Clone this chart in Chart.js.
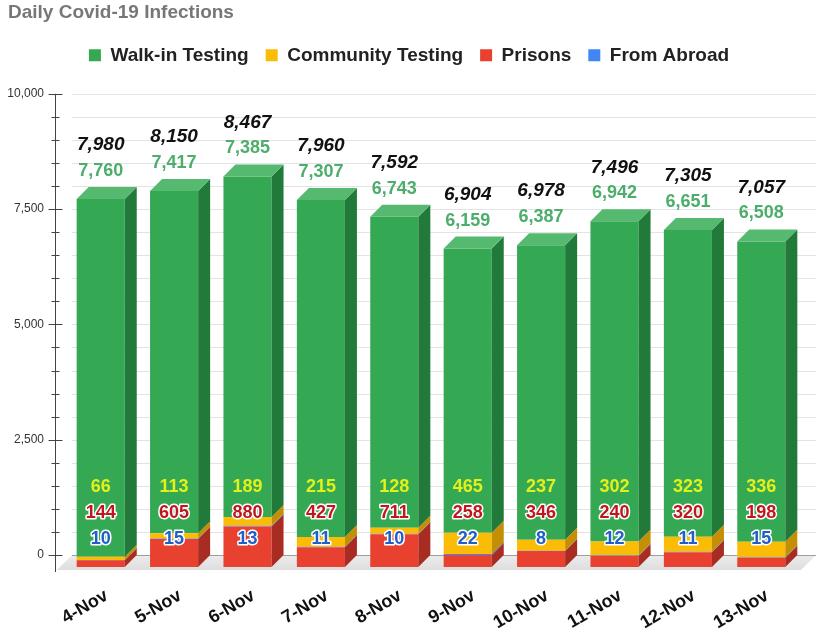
<!DOCTYPE html>
<html>
<head>
<meta charset="utf-8">
<script src="https://cdn.jsdelivr.net/npm/chart.js@4.4.1/dist/chart.umd.min.js"></script>
<style>
  html, body { margin: 0; padding: 0; background: #fff; }
  #wrap { width: 820px; height: 638px; }
</style>
</head>
<body>
<div id="wrap"><canvas id="c" width="820" height="638"></canvas></div>
<script>
// data
const days = ['4-Nov', '5-Nov', '6-Nov', '7-Nov', '8-Nov', '9-Nov', '10-Nov', '11-Nov', '12-Nov', '13-Nov'];
const walkIn = [7760, 7417, 7385, 7307, 6743, 6159, 6387, 6942, 6651, 6508];
const community = [66, 113, 189, 215, 128, 465, 237, 302, 323, 336];
const prisons = [144, 605, 880, 427, 711, 258, 346, 240, 320, 198];
const abroad = [10, 15, 13, 11, 10, 22, 8, 12, 11, 15];
const yMax = 10000;
const yStep = 500;
const yLabelStep = 2500;

const totals = days.map((_, i) => walkIn[i] + community[i] + prisons[i] + abroad[i]);

const DEPTH = 12;      // 3D offset of the bar fronts
const FLOOR = 15;      // depth of the floor slab
const FONT = '"Liberation Sans", Arial, sans-serif';
const fmt = (v) => v.toLocaleString('en-US');

// stacking bottom -> top; legend order is set by rank
const series = [
  { label: 'Prisons', data: prisons, front: '#e8412f', side: '#a92c22', top: '#f06a5c', text: '#c0171f', rank: 2 },
  { label: 'From Abroad', data: abroad, front: '#4285f4', side: '#2a5db5', top: '#6aa0f7', text: '#1f5fc7', rank: 3 },
  { label: 'Community Testing', data: community, front: '#fbbc05', side: '#c48f05', top: '#fdd050', text: '#e3f01b', rank: 1 },
  { label: 'Walk-in Testing', data: walkIn, front: '#34a853', side: '#227a3a', top: '#55b96f', text: '#4cae6a', rank: 0 },
];

function poly(ctx, pts, color) {
  ctx.beginPath();
  ctx.moveTo(pts[0][0], pts[0][1]);
  for (let k = 1; k < pts.length; k++) ctx.lineTo(pts[k][0], pts[k][1]);
  ctx.closePath();
  ctx.fillStyle = color;
  ctx.fill();
}

const depthPlugin = {
  id: 'depth3d',
  beforeInit(chart) {
    // extra room below the legend
    const fit = chart.legend.fit;
    chart.legend.fit = function () {
      fit.call(this);
      this.height += 19;
    };
  },
  beforeDatasetsDraw(chart) {
    const { ctx, chartArea: a, scales } = chart;
    const ys = scales.y;
    const base = ys.getPixelForValue(0);
    ctx.save();
    // back wall grid
    ctx.strokeStyle = '#e3e3e3';
    ctx.lineWidth = 1;
    for (let v = 0; v <= yMax; v += yStep) {
      const py = Math.round(ys.getPixelForValue(v)) + 0.5;
      ctx.beginPath();
      ctx.moveTo(a.left - 4, py);
      ctx.lineTo(a.right + 6, py);
      ctx.stroke();
    }
    // floor
    const g = ctx.createLinearGradient(0, base, 0, base + FLOOR);
    g.addColorStop(0, '#ececec');
    g.addColorStop(1, '#dedede');
    poly(ctx, [[a.left - 4, base], [a.right + 6, base], [a.right + 6 - FLOOR, base + FLOOR], [a.left - 4 - FLOOR, base + FLOOR]], g);
    ctx.strokeStyle = '#9e9e9e';
    ctx.beginPath();
    ctx.moveTo(a.left - 4, base + 0.5);
    ctx.lineTo(a.right + 6, base + 0.5);
    ctx.stroke();
    // axis line with tick marks
    const ax = a.left - 20.5;
    ctx.strokeStyle = '#444';
    ctx.beginPath();
    ctx.moveTo(ax, ys.getPixelForValue(yMax));
    ctx.lineTo(ax, base + FLOOR + 2);
    ctx.stroke();
    for (let v = 0; v <= yMax; v += yStep) {
      const py = Math.round(ys.getPixelForValue(v)) + 0.5;
      const major = v % yLabelStep === 0;
      ctx.beginPath();
      ctx.moveTo(ax - (major ? 7 : 4), py);
      ctx.lineTo(ax + (major ? 7 : 4), py);
      ctx.stroke();
    }
    ctx.restore();
    // bar fronts are drawn shifted towards the viewer
    ctx.save();
    ctx.translate(-DEPTH, DEPTH);
  },
  afterDatasetsDraw(chart) {
    const { ctx, chartArea: a } = chart;
    ctx.restore();
    const D = DEPTH;
    const last = series.length - 1;
    series.forEach((s, i) => {
      const meta = chart.getDatasetMeta(i);
      meta.data.forEach((el) => {
        const { x, y, base, width } = el.getProps(['x', 'y', 'base', 'width'], true);
        const fl = x - width / 2 - D;
        const fr = x + width / 2 - D;
        const ft = Math.min(y, base) + D;
        const fb = Math.max(y, base) + D;
        poly(ctx, [[fr, ft], [fr + D, ft - D], [fr + D, fb - D], [fr, fb]], s.side);
        if (i === last) {
          poly(ctx, [[fl, ft], [fl + D, ft - D], [fr + D, ft - D], [fr, ft]], s.top);
        }
      });
    });

    // value labels
    const topMeta = chart.getDatasetMeta(last);
    ctx.save();
    ctx.textAlign = 'center';
    ctx.textBaseline = 'middle';
    topMeta.data.forEach((el, j) => {
      const { x, y } = el.getProps(['x', 'y'], true);
      const cx = x - D;
      ctx.font = 'italic bold 19px ' + FONT;
      ctx.fillStyle = '#111';
      ctx.fillText(fmt(totals[j]), cx, y - 42);
      ctx.font = 'bold 18px ' + FONT;
      ctx.fillStyle = series[last].text;
      ctx.fillText(fmt(walkIn[j]), cx, y - 16);

      ctx.font = 'bold 18px ' + FONT;
      ctx.lineJoin = 'round';
      const inner = [
        [community[j], series[2].text, false, -68],
        [prisons[j], series[0].text, true, -42],
        [abroad[j], series[1].text, true, -16],
      ];
      inner.forEach(([v, col, outline, off]) => {
        const py = a.bottom + off;
        if (outline) {
          ctx.strokeStyle = '#fff';
          ctx.lineWidth = 3;
          ctx.strokeText(fmt(v), cx, py);
        }
        ctx.fillStyle = col;
        ctx.fillText(fmt(v), cx, py);
      });
    });
    ctx.restore();
  },
};

new Chart(document.getElementById('c'), {
  type: 'bar',
  data: {
    labels: days,
    datasets: series.map((s) => ({
      label: s.label,
      data: s.data,
      backgroundColor: s.front,
      borderWidth: 0,
      barPercentage: 0.655,
      categoryPercentage: 1,
    })),
  },
  options: {
    responsive: false,
    animation: false,
    layout: { padding: { left: 8, right: 10, top: 0, bottom: 0 } },
    plugins: {
      title: {
        display: true,
        text: 'Daily Covid-19 Infections',
        align: 'start',
        color: '#777',
        font: { family: FONT, size: 19, weight: 'bold', lineHeight: 1.2 },
        padding: { top: 1, bottom: 5 },
      },
      legend: {
        position: 'top',
        labels: {
          boxWidth: 12,
          boxHeight: 12,
          padding: 17,
          color: '#222',
          font: { family: FONT, size: 19, weight: 'bold' },
          sort: (p, q) => series[p.datasetIndex].rank - series[q.datasetIndex].rank,
        },
      },
      tooltip: { enabled: false },
    },
    scales: {
      x: {
        stacked: true,
        grid: { display: false, drawTicks: false },
        border: { display: false },
        ticks: {
          autoSkip: false,
          minRotation: 30,
          maxRotation: 30,
          padding: 30,
          labelOffset: -6,
          color: '#111',
          font: { family: FONT, size: 18, weight: 'bold' },
        },
        afterFit: (s) => { s.height = 83; },
      },
      y: {
        stacked: true,
        min: 0,
        max: yMax,
        grid: { display: false, drawTicks: false },
        border: { display: false },
        ticks: {
          stepSize: yStep,
          padding: 32,
          color: '#333',
          font: { family: FONT, size: 12 },
          callback: (v) => (v % yLabelStep === 0 ? fmt(v) : ''),
        },
        afterFit: (s) => { s.width = 68; },
      },
    },
  },
  plugins: [depthPlugin],
});
</script>
</body>
</html>
